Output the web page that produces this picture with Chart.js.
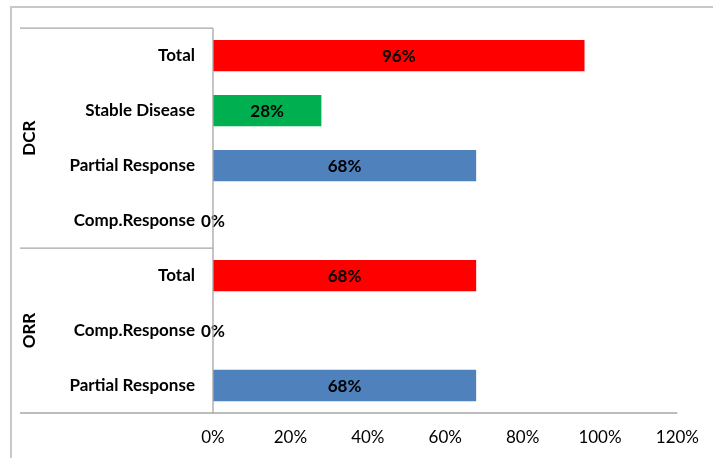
<!DOCTYPE html>
<html>
<head>
<meta charset="utf-8">
<script src="https://cdn.jsdelivr.net/npm/chart.js@4/dist/chart.umd.min.js"></script>
<style>
  body { margin: 0; background: #fff; }
</style>
</head>
<body>
<canvas id="myChart" width="713" height="458"></canvas>
<script>
// data
const categories = ['Total', 'Stable Disease', 'Partial Response', 'Comp.Response', 'Total', 'Comp.Response', 'Partial Response'];
const values = [96, 28, 68, 0, 68, 0, 68];
const barColors = ['#ff0000', '#00b050', '#4f81bd', '#4f81bd', '#ff0000', '#4f81bd', '#4f81bd'];
const groups = ['DCR', 'ORR'];
const groupSizes = [4, 3];
const xTicks = [0, 20, 40, 60, 80, 100, 120];

const fontName = 'Lato, "Open Sans", sans-serif';
const lineColor = '#a6a6a6';

// bar value labels, centred on the bar
const barLabels = {
  id: 'barLabels',
  afterDatasetsDraw(chart) {
    const ctx = chart.ctx;
    const meta = chart.getDatasetMeta(0);
    ctx.save();
    ctx.font = 'bold 17px ' + fontName;
    ctx.fillStyle = '#000';
    ctx.textAlign = 'center';
    ctx.textBaseline = 'middle';
    meta.data.forEach((bar, i) => {
      const p = bar.getProps(['x', 'y', 'base'], true);
      ctx.fillText(values[i] + '%', (p.x + p.base) / 2, p.y + 1);
    });
    ctx.restore();
  }
};

// outer frame, group lines and group names
const frame = {
  id: 'frame',
  afterDraw(chart) {
    const ctx = chart.ctx;
    const area = chart.chartArea;
    const step = (area.bottom - area.top) / categories.length;
    ctx.save();
    ctx.strokeStyle = '#c8c8c8';
    ctx.lineWidth = 2;
    ctx.beginPath();
    ctx.moveTo(11, 458);
    ctx.lineTo(11, 7);
    ctx.lineTo(713, 7);
    ctx.stroke();

    ctx.strokeStyle = lineColor;
    ctx.lineWidth = 1.3;
    ctx.beginPath();
    ctx.moveTo(20, area.top);
    ctx.lineTo(area.left, area.top);
    ctx.moveTo(area.left, area.top);
    ctx.lineTo(area.left, area.bottom);
    ctx.moveTo(20, area.bottom);
    ctx.lineTo(area.right, area.bottom);
    let start = 0;
    groupSizes.forEach((n, g) => {
      const y0 = area.top + start * step;
      if (g > 0) {
        ctx.moveTo(20, y0);
        ctx.lineTo(area.left, y0);
      }
      start += n;
    });
    ctx.stroke();

    ctx.fillStyle = '#000';
    ctx.font = 'bold 17px ' + fontName;
    ctx.textAlign = 'center';
    ctx.textBaseline = 'middle';
    start = 0;
    groupSizes.forEach((n, g) => {
      const y0 = area.top + start * step;
      const y1 = area.top + (start + n) * step;
      ctx.save();
      ctx.translate(30, (y0 + y1) / 2);
      ctx.rotate(-Math.PI / 2);
      ctx.fillText(groups[g], 0, 0);
      ctx.restore();
      start += n;
    });
    ctx.restore();
  }
};

let myChart = document.getElementById('myChart');

const massChart = new Chart(myChart, {
  type: 'bar',
  data: {
    labels: categories,
    datasets: [{
      data: values,
      backgroundColor: barColors,
      barPercentage: 0.57,
      categoryPercentage: 1
    }]
  },
  options: {
    indexAxis: 'y',
    responsive: false,
    animation: false,
    layout: { padding: { top: 27, right: 33, left: 0, bottom: 0 } },
    plugins: {
      legend: { display: false },
      tooltip: { enabled: false }
    },
    scales: {
      x: {
        min: 0,
        max: 120,
        afterBuildTicks(scale) {
          scale.ticks = xTicks.map(v => ({ value: v }));
        },
        afterFit(scale) { scale.height = 45; },
        grid: { display: false, drawTicks: false },
        border: { display: false },
        ticks: {
          padding: 14,
          color: '#000',
          font: { size: 17, family: fontName },
          callback: v => v + '%'
        }
      },
      y: {
        afterFit(scale) { scale.width = 213; },
        grid: { display: false, drawTicks: false },
        border: { display: false },
        ticks: {
          padding: 18,
          color: '#000',
          font: { size: 17, weight: 'bold', family: fontName }
        }
      }
    }
  },
  plugins: [barLabels, frame]
});
</script>
</body>
</html>
